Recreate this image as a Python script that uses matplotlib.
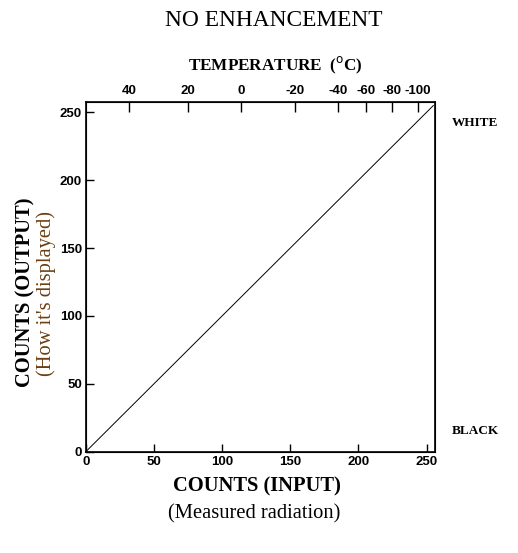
import matplotlib
matplotlib.use("Agg")
import matplotlib.pyplot as plt

# enhancement curve: no enhancement -> output equals input
counts_in = [0, 255]
counts_out = [0, 255]

count_ticks = [0, 50, 100, 150, 200, 250]

# temperature scale along the top (count position of each temperature)
temp_labels = ["40", "20", "0", "-20", "-40", "-60", "-80", "-100"]
temp_counts = [31.7, 75.0, 114.1, 153.8, 185.0, 205.4, 224.7, 243.8]

W, H = 518, 553
fig = plt.figure(figsize=(W / 100, H / 100), dpi=100)
fig.patch.set_facecolor("white")

def fx(px):
    return px / W

def fy(py):
    return 1 - py / H

tick_font = dict(family=["Liberation Sans Narrow", "Liberation Sans", "DejaVu Sans"],
                 weight="bold", size=9.5)
serif = ["Liberation Serif", "DejaVu Serif"]

ax = fig.add_axes([fx(86), fy(451.5), fx(434.7) - fx(86), fy(102.3) - fy(451.5)])
ax.plot(counts_in, counts_out, color="black", lw=0.7)
ax.set_xlim(0, 256)
ax.set_ylim(0, 257.4)
ax.set_xticks(count_ticks)
ax.set_yticks(count_ticks)
ax.set_xticklabels([str(t) for t in count_ticks], fontdict=tick_font)
ax.set_yticklabels([str(t) for t in count_ticks], fontdict=tick_font)
ax.tick_params(direction="in", length=6, width=1, color="black", pad=3)
for s in ax.spines.values():
    s.set_linewidth(1.2)

top = ax.twiny()
top.set_xlim(ax.get_xlim())
top.set_xticks(temp_counts)
top.set_xticklabels(temp_labels, fontdict=tick_font)
top.tick_params(direction="in", length=7, width=1, pad=4)

# titles and labels
fig.text(fx(274), fy(20), "NO ENHANCEMENT", family=serif, size=16.8,
         ha="center", va="center")
fig.text(fx(275.5), fy(65), r"TEMPERATURE  ($^{\mathrm{o}}$C)", family=serif,
         weight="bold", size=12.3, ha="center", va="center")
fig.text(fx(452), fy(123.5), "WHITE", family=serif, weight="bold", size=9.5,
         ha="left", va="center")
fig.text(fx(452), fy(431), "BLACK", family=serif, weight="bold", size=9.5,
         ha="left", va="center")
fig.text(fx(25), fy(292), "COUNTS (OUTPUT)", family=serif, weight="bold",
         size=14.8, rotation=90, ha="center", va="center")
fig.text(fx(46), fy(294), "(How it's displayed)", family=serif, size=14.8,
         color="#6b3e10", rotation=90, ha="center", va="center")
fig.text(fx(256.5), fy(486), "COUNTS (INPUT)", family=serif, weight="bold",
         size=14.8, ha="center", va="center")
fig.text(fx(254), fy(514), "(Measured radiation)", family=serif, size=14.8,
         ha="center", va="center")

fig.savefig("out.png", dpi=100)
